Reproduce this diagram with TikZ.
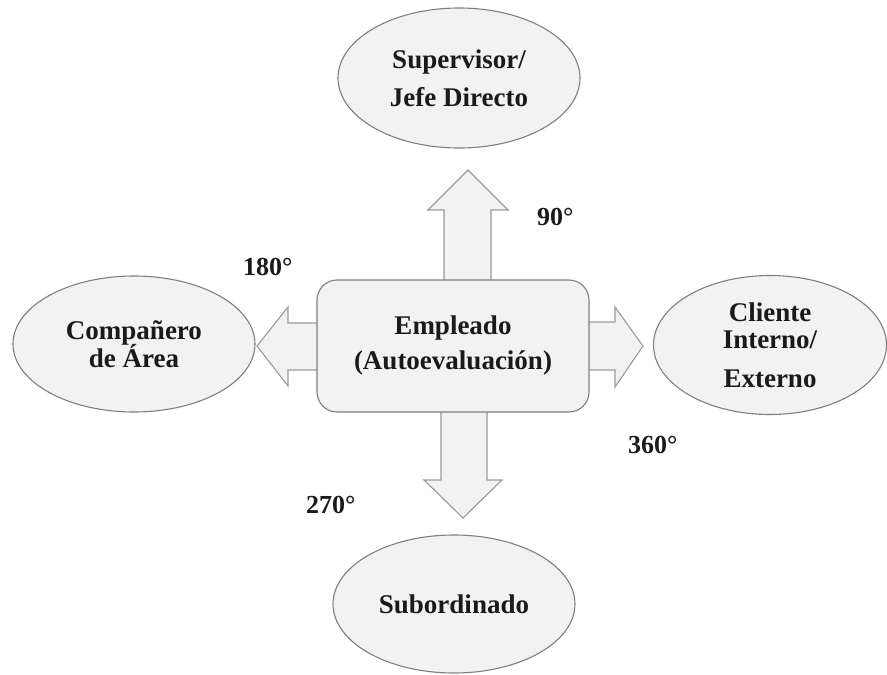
\documentclass[tikz,border=0pt]{standalone}
\usepackage{fontspec}
\setmainfont{Liberation Serif}
\usetikzlibrary{shapes.geometric,calc}
\definecolor{fillg}{HTML}{F2F2F2}
\definecolor{lineg}{HTML}{7F7F7F}
\definecolor{arrg}{HTML}{9A9A9A}
\definecolor{txt}{HTML}{1A1A1A}
\newcommand\mytightlines{\lineskiplimit=-60pt\relax}
\begin{document}
\begin{tikzpicture}[x=1pt,y=-1pt,
  every node/.style={text=txt},
  oval/.style={ellipse, draw=lineg, fill=fillg, line width=1.1pt, inner sep=0pt, align=center,
    minimum width=242pt, minimum height=138pt},
  big/.style={font={\bfseries\fontsize{27}{#1}\selectfont\mytightlines}},
  blockarrow/.style={draw=arrg, fill=fillg, line width=1.1pt, line join=miter},
  deg/.style={anchor=base west, inner sep=0pt, font=\bfseries\fontsize{26}{30}\selectfont}]
\useasboundingbox (0,0) rectangle (887,675);
\coordinate (c) at (453,346);
% block arrows (drawn before the central box so that it covers their ends)
\draw[blockarrow] ($(c)+(-9,-60)$) -- ($(c)+(-9,-136)$) -- ($(c)+(-25,-136)$) -- ($(c)+(15,-176)$)
  -- ($(c)+(55,-136)$) -- ($(c)+(38,-136)$) -- ($(c)+(38,-60)$);
\draw[blockarrow] ($(c)+(-12,60)$) -- ($(c)+(-12,134)$) -- ($(c)+(-29,134)$) -- ($(c)+(10,172)$)
  -- ($(c)+(49,134)$) -- ($(c)+(34,134)$) -- ($(c)+(34,60)$);
\draw[blockarrow] ($(c)+(-130,-23)$) -- ($(c)+(-165,-23)$) -- ($(c)+(-165,-39)$) -- ($(c)+(-196,0)$)
  -- ($(c)+(-165,40)$) -- ($(c)+(-165,24)$) -- ($(c)+(-130,24)$);
\draw[blockarrow] ($(c)+(130,-24)$) -- ($(c)+(162,-24)$) -- ($(c)+(162,-39)$) -- ($(c)+(190,0)$)
  -- ($(c)+(162,41)$) -- ($(c)+(162,24)$) -- ($(c)+(130,24)$);
% central box
\node[draw=lineg, fill=fillg, line width=1.1pt, rounded corners=20pt, minimum width=272pt,
  minimum height=132pt, inner sep=0pt, align=center, big=35] (box) at (c)
  {Empleado\\(Autoevaluación)};
% ellipses
\node[oval, big=38, minimum height=140pt] (sup) at (459,78) {Supervisor/\\Jefe Directo};
\node[oval, big=28, minimum height=136pt] (comp) at (134,344) {Compañero\\de Área};
\node[oval, big=27, minimum width=233pt, minimum height=139pt] (cli) at (770,345)
  {Cliente\\Interno/\\[12pt]Externo};
\node[oval, big=30] (sub) at (454,604) {Subordinado};
% degree labels
\node[deg] (d90) at (537,225) {90°};
\node[deg] (d180) at (243,275) {180°};
\node[deg] (d360) at (628,453) {360°};
\node[deg] (d270) at (306,513) {270°};
\end{tikzpicture}
\end{document}
